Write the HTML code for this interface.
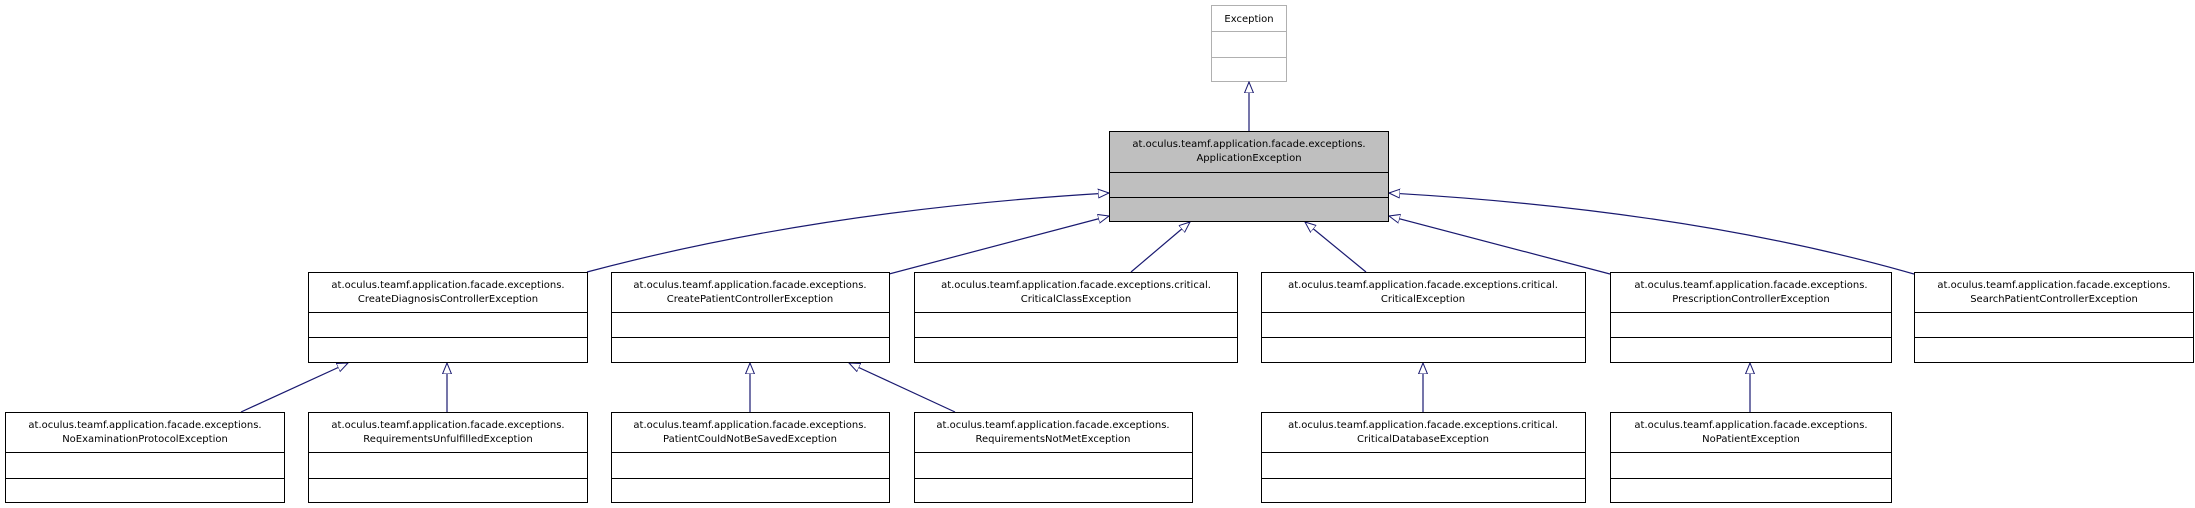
<!DOCTYPE html>
<html><head><meta charset="utf-8"><style>
html,body{margin:0;padding:0;background:#fff;}
svg{display:block;}
text{font-family:"DejaVu Sans",sans-serif;font-size:10px;fill:#000;text-anchor:middle;}
</style></head><body>
<svg width="2195" height="508" viewBox="0 0 2195 508" xmlns="http://www.w3.org/2000/svg">
<defs>
<marker id="a" markerWidth="12" markerHeight="12" refX="11" refY="5" orient="auto" markerUnits="userSpaceOnUse">
<path d="M11,5 L0,0.5 L0,9.5 Z" fill="#fff" stroke="#191970" stroke-width="1"/>
</marker>
</defs>
<rect x="1211.5" y="5.5" width="75" height="76" fill="#fff" stroke="#b0b0b0"/>
<line x1="1211" y1="31.5" x2="1287" y2="31.5" stroke="#b0b0b0"/>
<line x1="1211" y1="57.5" x2="1287" y2="57.5" stroke="#b0b0b0"/>
<text x="1249" y="22">Exception</text>

<g stroke="#191970" stroke-width="1.2" fill="none" marker-end="url(#a)">
<line x1="1249" y1="131" x2="1249" y2="82"/>
<path d="M587,272 Q820,210 1109,193"/>
<line x1="889" y1="274" x2="1109" y2="216"/>
<line x1="1131" y1="272" x2="1190" y2="222"/>
<line x1="1366" y1="272" x2="1305" y2="222"/>
<line x1="1610" y1="274" x2="1389" y2="216"/>
<path d="M1914,274 Q1690,210 1389,193"/>
<line x1="241" y1="412" x2="348" y2="363"/>
<line x1="447" y1="412" x2="447" y2="363"/>
<line x1="750" y1="412" x2="750" y2="363"/>
<line x1="955" y1="412" x2="849" y2="363"/>
<line x1="1423" y1="412" x2="1423" y2="363"/>
<line x1="1750" y1="412" x2="1750" y2="363"/>
</g>

<g stroke="#000" stroke-width="1">
<rect x="1109.5" y="131.5" width="279" height="90" fill="#bfbfbf"/>
<line x1="1109" y1="172.5" x2="1389" y2="172.5"/>
<line x1="1109" y1="197.5" x2="1389" y2="197.5"/>
</g>
<text x="1249" y="147">at.oculus.teamf.application.facade.exceptions.</text>
<text x="1249" y="161">ApplicationException</text>

<g stroke="#000" stroke-width="1" fill="#fff">
<rect x="308.5" y="272.5" width="279" height="90"/>
<rect x="611.5" y="272.5" width="278" height="90"/>
<rect x="914.5" y="272.5" width="323" height="90"/>
<rect x="1261.5" y="272.5" width="324" height="90"/>
<rect x="1610.5" y="272.5" width="281" height="90"/>
<rect x="1914.5" y="272.5" width="279" height="90"/>
<path d="M308,312.5H588M308,337.5H588M611,312.5H890M611,337.5H890M914,312.5H1238M914,337.5H1238M1261,312.5H1586M1261,337.5H1586M1610,312.5H1892M1610,337.5H1892M1914,312.5H2194M1914,337.5H2194"/>
<rect x="5.5" y="412.5" width="279" height="90"/>
<rect x="308.5" y="412.5" width="279" height="90"/>
<rect x="611.5" y="412.5" width="278" height="90"/>
<rect x="914.5" y="412.5" width="278" height="90"/>
<rect x="1261.5" y="412.5" width="324" height="90"/>
<rect x="1610.5" y="412.5" width="281" height="90"/>
<path d="M5,452.5H285M5,478.5H285M308,452.5H588M308,478.5H588M611,452.5H890M611,478.5H890M914,452.5H1193M914,478.5H1193M1261,452.5H1586M1261,478.5H1586M1610,452.5H1892M1610,478.5H1892"/>
</g>

<text x="448" y="288">at.oculus.teamf.application.facade.exceptions.</text>
<text x="448" y="302">CreateDiagnosisControllerException</text>
<text x="750" y="288">at.oculus.teamf.application.facade.exceptions.</text>
<text x="750" y="302">CreatePatientControllerException</text>
<text x="1076" y="288">at.oculus.teamf.application.facade.exceptions.critical.</text>
<text x="1076" y="302">CriticalClassException</text>
<text x="1423" y="288">at.oculus.teamf.application.facade.exceptions.critical.</text>
<text x="1423" y="302">CriticalException</text>
<text x="1751" y="288">at.oculus.teamf.application.facade.exceptions.</text>
<text x="1751" y="302">PrescriptionControllerException</text>
<text x="2054" y="288">at.oculus.teamf.application.facade.exceptions.</text>
<text x="2054" y="302">SearchPatientControllerException</text>

<text x="145" y="428">at.oculus.teamf.application.facade.exceptions.</text>
<text x="145" y="442">NoExaminationProtocolException</text>
<text x="448" y="428">at.oculus.teamf.application.facade.exceptions.</text>
<text x="448" y="442">RequirementsUnfulfilledException</text>
<text x="750" y="428">at.oculus.teamf.application.facade.exceptions.</text>
<text x="750" y="442">PatientCouldNotBeSavedException</text>
<text x="1053" y="428">at.oculus.teamf.application.facade.exceptions.</text>
<text x="1053" y="442">RequirementsNotMetException</text>
<text x="1423" y="428">at.oculus.teamf.application.facade.exceptions.critical.</text>
<text x="1423" y="442">CriticalDatabaseException</text>
<text x="1751" y="428">at.oculus.teamf.application.facade.exceptions.</text>
<text x="1751" y="442">NoPatientException</text>
</svg>
</body></html>
